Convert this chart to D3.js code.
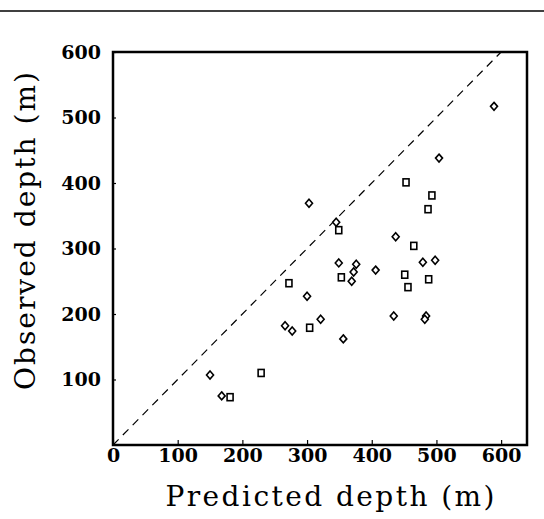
<!DOCTYPE html>
<html>
<head>
<meta charset="utf-8">
<script src="https://cdn.jsdelivr.net/npm/d3@7"></script>
<style>
  body { margin: 0; background: #fff; }
  svg { display: block; }
</style>
</head>
<body>
<svg id="chart"></svg>
<script>
// predicted vs observed depth, two groups of sites
const diamonds = [
  [589, 517], [504, 438], [303, 369], [345, 340], [437, 318], [349, 278],
  [376, 276], [372, 264], [406, 267], [479, 279], [498, 282], [369, 250],
  [300, 227], [321, 192], [356, 162], [434, 197], [484, 197], [482, 192],
  [266, 182], [277, 174], [150, 107], [168, 75]
];
const squares = [
  [453, 401], [493, 381], [487, 360], [349, 328], [465, 304], [272, 247],
  [353, 256], [451, 260], [488, 253], [456, 241], [304, 179], [229, 110],
  [181, 73]
];
const xTicks = [0, 100, 200, 300, 400, 500, 600];
const yTicks = [100, 200, 300, 400, 500, 600];

const width = 544, height = 519;
const svg = d3.select("#chart")
  .attr("width", width)
  .attr("height", height);

const x = d3.scaleLinear().domain([0, 640]).range([113, 527]);
const y = d3.scaleLinear().domain([0, 600]).range([445, 52]);

// scan line at the top of the page
svg.append("line")
  .attr("x1", 0).attr("x2", width)
  .attr("y1", 11).attr("y2", 11)
  .attr("stroke", "#000")
  .attr("stroke-width", 1.5);

// 1:1 line
svg.append("line")
  .attr("x1", x(0)).attr("y1", y(0))
  .attr("x2", x(600)).attr("y2", y(600))
  .attr("stroke", "#000")
  .attr("stroke-width", 1.2)
  .attr("stroke-dasharray", "8,6");

// axes with inward ticks
const xAxis = svg.append("g")
  .attr("transform", `translate(0,${y(0)})`)
  .call(d3.axisBottom(x).tickValues(xTicks).tickSizeInner(-5).tickSizeOuter(0).tickPadding(13));
const yAxis = svg.append("g")
  .attr("transform", `translate(${x(0)},0)`)
  .call(d3.axisLeft(y).tickValues(yTicks).tickSizeInner(-3).tickSizeOuter(0).tickPadding(12));

[xAxis, yAxis].forEach(function(g) {
  g.select(".domain").remove();
  g.selectAll(".tick line").attr("stroke", "#000").attr("stroke-width", 1.2);
  g.selectAll(".tick text")
    .attr("fill", "#000")
    .style("font-family", "'DejaVu Serif', serif")
    .style("font-weight", "bold")
    .style("font-size", "19px");
});
xAxis.selectAll(".tick text").attr("dy", "0.2em");

// plot frame
svg.append("rect")
  .attr("x", x(0))
  .attr("y", y(600))
  .attr("width", x(640) - x(0))
  .attr("height", y(0) - y(600))
  .attr("fill", "none")
  .attr("stroke", "#000")
  .attr("stroke-width", 2.5);

// markers
svg.selectAll(".diamond")
  .data(diamonds)
  .join("path")
  .attr("class", "diamond")
  .attr("transform", d => `translate(${x(d[0])},${y(d[1])})`)
  .attr("d", "M0,-4L3.5,0L0,4L-3.5,0Z")
  .attr("fill", "#fff")
  .attr("stroke", "#000")
  .attr("stroke-width", 1.6);

svg.selectAll(".square")
  .data(squares)
  .join("rect")
  .attr("class", "square")
  .attr("x", d => x(d[0]) - 3)
  .attr("y", d => y(d[1]) - 3.5)
  .attr("width", 6)
  .attr("height", 7)
  .attr("fill", "#fff")
  .attr("stroke", "#000")
  .attr("stroke-width", 1.6);

// axis titles
svg.append("text")
  .attr("x", 330)
  .attr("y", 506)
  .attr("text-anchor", "middle")
  .attr("textLength", 329)
  .attr("lengthAdjust", "spacing")
  .style("font-family", "'DejaVu Serif', serif")
  .style("font-size", "28px")
  .text("Predicted depth (m)");

svg.append("text")
  .attr("transform", "translate(35,231) rotate(-90)")
  .attr("text-anchor", "middle")
  .attr("textLength", 318)
  .attr("lengthAdjust", "spacing")
  .style("font-family", "'DejaVu Serif', serif")
  .style("font-size", "28px")
  .text("Observed depth (m)");
</script>
</body>
</html>
